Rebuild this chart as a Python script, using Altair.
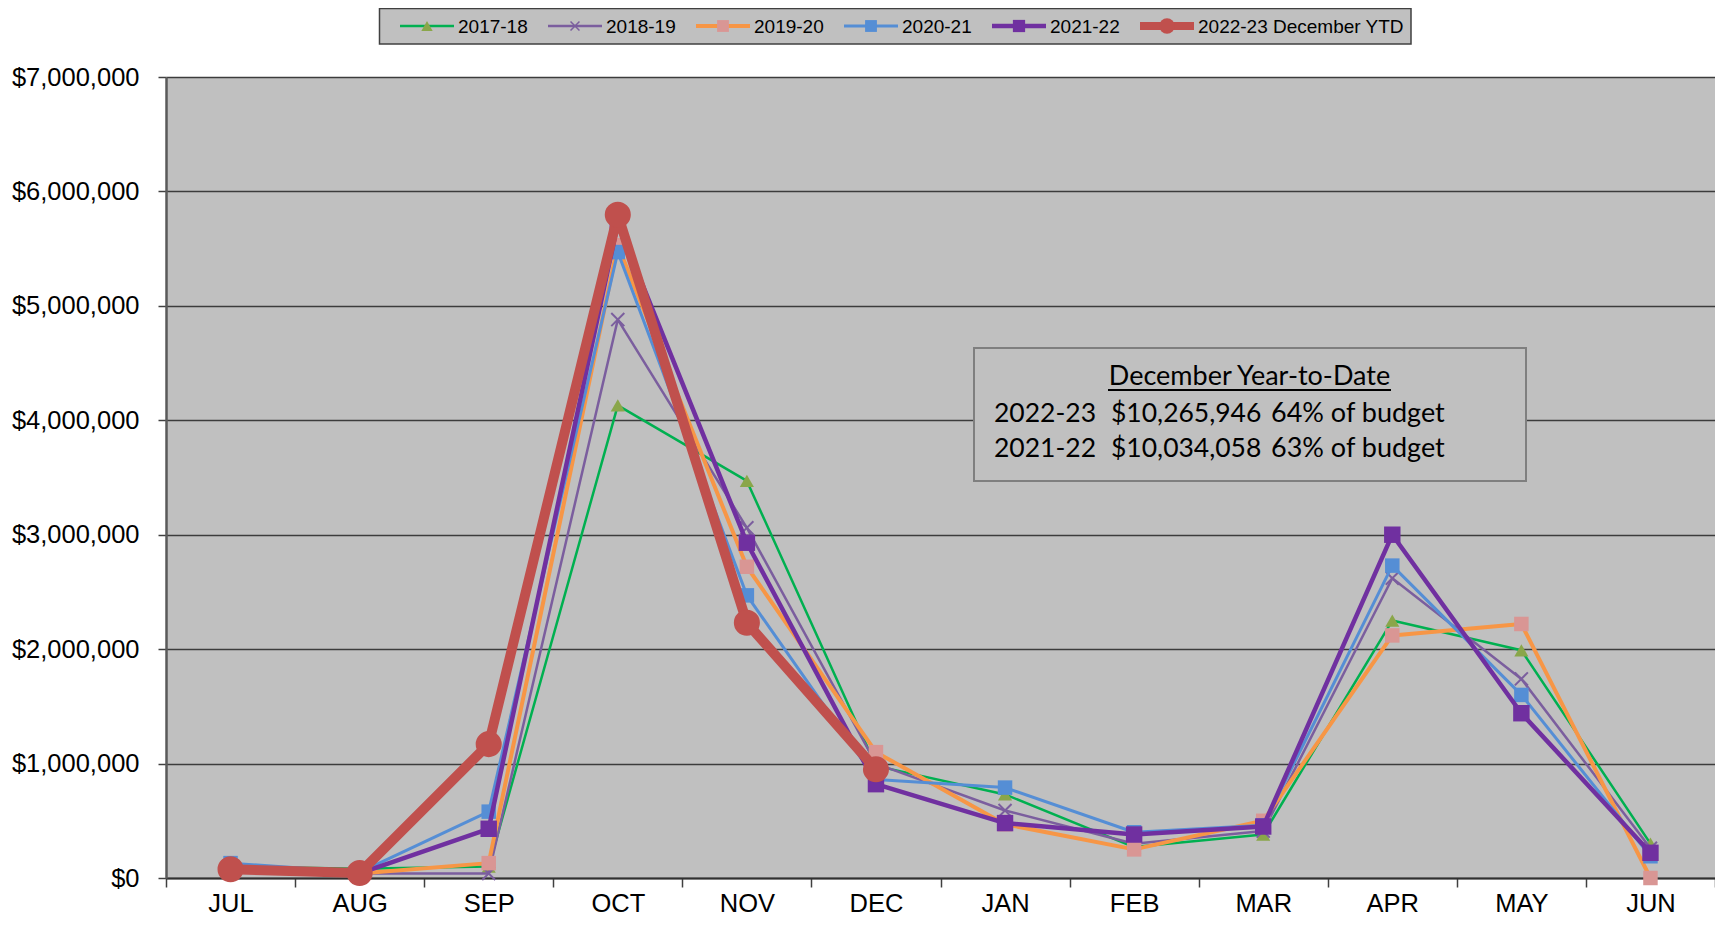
import altair as alt
import pandas as pd

# ---------------- data ----------------
months = ["JUL", "AUG", "SEP", "OCT", "NOV", "DEC", "JAN", "FEB", "MAR", "APR", "MAY", "JUN"]
series_names = ["2017-18", "2018-19", "2019-20", "2020-21", "2021-22", "2022-23 December YTD"]

fy1718 = [100000, 80000, 100000, 4130000, 3470000, 980000, 730000, 270000, 380000, 2250000, 1990000, 300000]
fy1819 = [60000, 40000, 40000, 4880000, 3060000, 1000000, 590000, 300000, 410000, 2620000, 1740000, 260000]
fy1920 = [70000, 40000, 130000, 5530000, 2720000, 1100000, 470000, 250000, 500000, 2120000, 2220000, 0]
fy2021 = [130000, 50000, 580000, 5470000, 2470000, 860000, 790000, 400000, 460000, 2730000, 1600000, 190000]
fy2122 = [90000, 40000, 430000, 5720000, 2930000, 820000, 480000, 380000, 450000, 3000000, 1440000, 220000]
fy2223 = [76000, 44000, 1170000, 5796000, 2230000, 950000]

y_ticks = [0, 1000000, 2000000, 3000000, 4000000, 5000000, 6000000, 7000000]

box_title = "December Year-to-Date"
box_rows = [["2022-23", "$10,265,946", "64% of budget"],
            ["2021-22", "$10,034,058", "63% of budget"]]

# ---------------- styles ----------------
line_colors = ["#00B050", "#7B5E9E", "#F79646", "#558ED5", "#7030A0", "#C0504D"]
marker_colors = ["#8AA64A", "#7B5E9E", "#D99694", "#558ED5", "#7030A0", "#C0504D"]
line_widths = [2.5, 2.5, 4, 3, 4.5, 10]
marker_shapes = ["triangle-up", "M-1,-1L1,1M-1,1L1,-1", "square", "square", "square", "circle"]
marker_sizes = [200, 170, 210, 210, 270, 680]
marker_filled = [True, False, True, True, True, True]
legend_marker_sizes = [130, 80, 140, 140, 150, 240]
legend_line_widths = [2.5, 2.5, 4, 3, 4.5, 8]

all_values = [fy1718, fy1819, fy1920, fy2021, fy2122, fy2223]
rows = []
for name, vals in zip(series_names, all_values):
    for m, v in zip(months, vals):
        rows.append({"series": name, "month": m, "value": v})
df = pd.DataFrame(rows)

FONT = "Liberation Sans"
BOX_FONT = "Lato"
BOX_SIZES = [26.5, 26.5, 27]

x_enc = alt.X(
    "month:N",
    sort=months,
    scale=alt.Scale(type="band", domain=months, paddingInner=0, paddingOuter=0),
    axis=alt.Axis(
        title=None, tickBand="extent", labelFont=FONT, labelFontSize=25.5,
        labelColor="black", tickSize=9, tickColor="#404040", tickWidth=1.5,
        domainColor="#303030", domainWidth=2, labelPadding=4, grid=False,
        labelAngle=0,
    ),
)
y_enc = alt.Y(
    "value:Q",
    scale=alt.Scale(domain=[0, 7000000], nice=False),
    axis=alt.Axis(
        title=None, values=y_ticks, format="$,.0f", labelFont=FONT,
        labelFontSize=25.5, labelColor="black", tickSize=8, tickColor="#404040",
        tickWidth=1.5, domainColor="#5a5a5a", domainWidth=2.5, labelPadding=19,
        grid=True, gridColor="#3c3c3c", gridWidth=1.5,
    ),
)

one = alt.Data(values=[{}])
layers = []

# annotation box
layers.append(
    alt.Chart(one).mark_rect(fill="#C0C0C0", stroke="#7F7F7F", strokeWidth=2).encode(
        x=alt.value(808), x2=alt.value(1360), y=alt.value(271), y2=alt.value(404)
    )
)
layers.append(
    alt.Chart(one).mark_text(
        text=box_title, font=BOX_FONT, fontSize=27, align="center",
        baseline="alphabetic", color="black"
    ).encode(x=alt.value(1083.5), y=alt.value(308))
)
layers.append(
    alt.Chart(one).mark_rule(color="black", strokeWidth=2).encode(
        x=alt.value(942), x2=alt.value(1225), y=alt.value(313)
    )
)
col_x = [828, 945, 1105]
row_y = [345, 380]
for r, ry in zip(box_rows, row_y):
    for txt, cx, fs in zip(r, col_x, BOX_SIZES):
        layers.append(
            alt.Chart(one).mark_text(
                text=txt, font=BOX_FONT, fontSize=fs, align="left",
                baseline="alphabetic", color="black"
            ).encode(x=alt.value(cx), y=alt.value(ry))
        )

# series
for i, name in enumerate(series_names):
    base = alt.Chart(df).transform_filter(alt.datum.series == name)
    layers.append(
        base.mark_line(color=line_colors[i], strokeWidth=line_widths[i], strokeJoin="round").encode(
            x=x_enc, y=y_enc
        )
    )
    pt_kwargs = dict(shape=marker_shapes[i], size=marker_sizes[i], filled=marker_filled[i],
                     color=marker_colors[i], opacity=1)
    if not marker_filled[i]:
        pt_kwargs["strokeWidth"] = 2
    layers.append(base.mark_point(**pt_kwargs).encode(x=x_enc, y=y_enc))

# custom legend
layers.append(
    alt.Chart(one).mark_rect(fill="#C0C0C0", stroke="#404040", strokeWidth=1.5).encode(
        x=alt.value(213.5), x2=alt.value(1245), y=alt.value(-68.5), y2=alt.value(-33)
    )
)
LEG_Y = -51
for i, name in enumerate(series_names):
    x0 = 234 + 148 * i
    layers.append(
        alt.Chart(one).mark_rule(color=line_colors[i], strokeWidth=legend_line_widths[i]).encode(
            x=alt.value(x0), x2=alt.value(x0 + 54), y=alt.value(LEG_Y)
        )
    )
    pt_kwargs = dict(shape=marker_shapes[i], size=legend_marker_sizes[i], filled=marker_filled[i],
                     color=marker_colors[i], opacity=1)
    if not marker_filled[i]:
        pt_kwargs["strokeWidth"] = 1.5
    layers.append(
        alt.Chart(one).mark_point(**pt_kwargs).encode(x=alt.value(x0 + 27), y=alt.value(LEG_Y))
    )
    layers.append(
        alt.Chart(one).mark_text(
            text=name, font=FONT, fontSize=19, align="left", baseline="middle", color="black"
        ).encode(x=alt.value(x0 + 58), y=alt.value(LEG_Y + 1))
    )

chart = (
    alt.layer(*layers)
    .properties(
        width=1549,
        height=801,
        padding={"left": 158, "top": 69, "right": 0, "bottom": 39},
        autosize=alt.AutoSizeParams(type="none"),
        background="white",
    )
    .configure_view(fill="#C0C0C0", stroke="transparent")
)

chart.save("out.html", embed_options={"renderer": "svg", "actions": False})
